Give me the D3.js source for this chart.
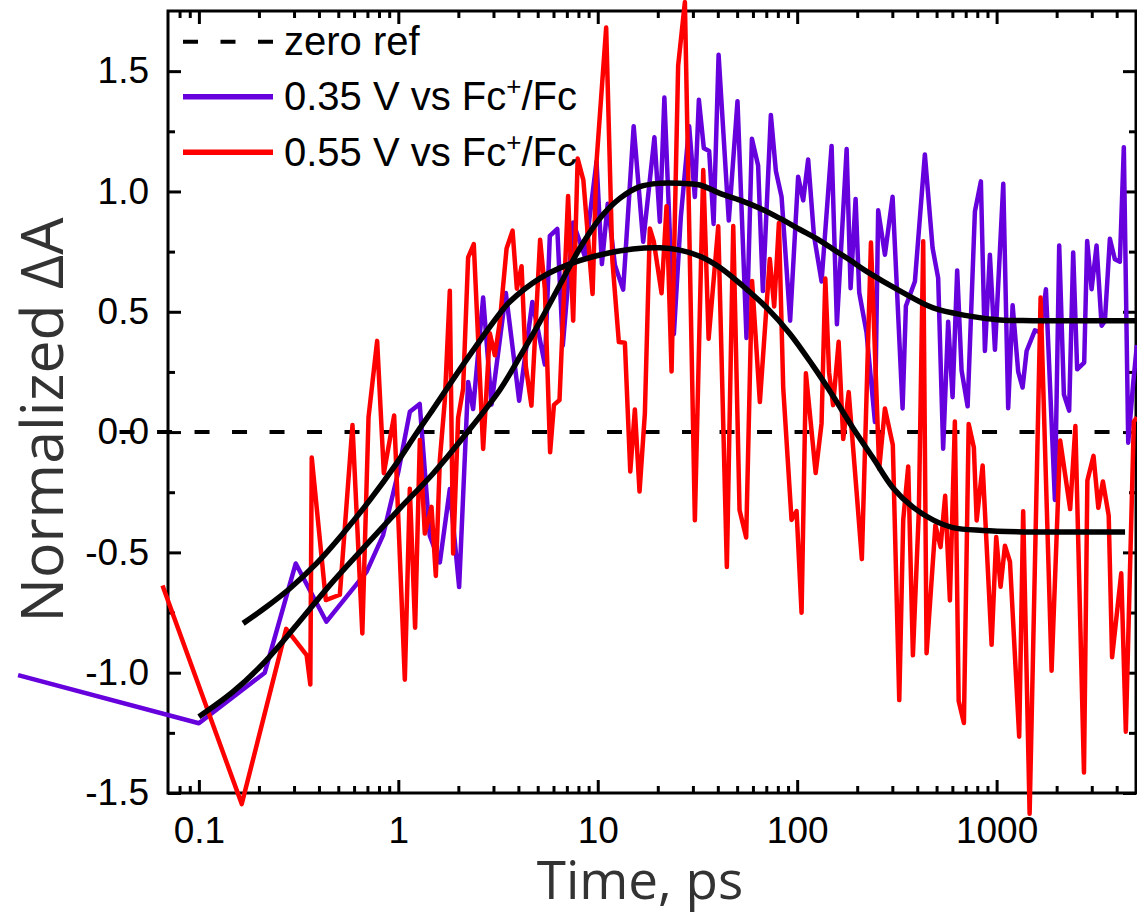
<!DOCTYPE html>
<html><head><meta charset="utf-8">
<script src="https://cdn.jsdelivr.net/npm/d3@7"></script>
<style>body{margin:0;background:#fff}</style>
</head><body>
<svg id="chart" width="1137" height="916"></svg>
<script>
// ---- data (time in ps, normalized ΔA) ----
const zeroRef = [[0.04, 0], [4000, 0]];

const purple035 = [[0.0124,-1.01],[0.1,-1.21],[0.214,-1.0],[0.306,-0.546],[0.436,-0.788],[0.693,-0.581],[0.839,-0.428],[1.0,-0.165],[1.142,0.084],[1.28,0.117],[1.438,-0.431],[1.615,-0.542],[1.812,-0.237],[2.018,-0.644],[2.239,0.208],[2.372,0.096],[2.663,0.559],[2.933,0.115],[3.461,0.578],[4.036,0.13],[4.70,0.541],[5.43,0.281],[5.75,0.815],[6.27,0.844],[6.68,0.36],[7.53,0.871],[8.61,0.731],[9.86,1.124],[10.49,0.698],[11.22,0.949],[12.19,0.694],[13.41,0.592],[15.14,1.271],[16.9,0.791],[19.24,1.225],[20.48,0.874],[21.58,1.39],[24.08,0.407],[26.1,0.894],[28.73,1.271],[30.69,0.977],[32.14,1.381],[34.04,1.18],[36.2,1.168],[38.1,0.865],[40.36,1.568],[45.4,0.879],[50.2,1.375],[55.7,0.391],[59.3,1.219],[63.7,1.108],[67.3,0.586],[73.8,1.318],[78.2,1.085],[83.5,0.978],[92.2,0.463],[101.1,1.061],[107.2,0.963],[113.5,1.133],[121.3,0.819],[132.5,0.626],[148.8,1.189],[158.2,0.448],[177,1.176],[185.3,0.598],[196.3,0.969],[204.7,0.58],[222.8,0.413],[245.5,0.042],[254.8,0.922],[275.4,0.737],[300.9,0.978],[337.7,0.098],[350.9,0.524],[389.3,0.626],[436.8,1.154],[477.5,0.765],[509.3,0.64],[539.5,-0.069],[571.5,0.459],[601.4,0.145],[634.3,0.672],[667.3,0.256],[715.6,0.107],[778.3,0.916],[834,1.042],[873.7,0.337],[925.3,0.737],[981,0.342],[1080,1.032],[1143,0.099],[1203,0.527],[1283,0.251],[1350,0.185],[1414,0.337],[1556,0.423],[1662,0.413],[1767,0.594],[1960,-0.282],[2060,0.775],[2175,0.156],[2311,0.089],[2421,0.746],[2535,0.261],[2749,0.289],[2845,0.794],[2994,0.594],[3171,0.775],[3362,0.442],[3491,0.461],[3698,0.803],[3917,0.718],[4150,0.708],[4345,1.184],[4571,-0.044],[4842,0.204],[5053,0.362]];

const red055 = [[0.0657,-0.638],[0.164,-1.546],[0.274,-0.818],[0.347,-0.927],[0.362,-1.049],[0.368,-0.106],[0.433,-0.698],[0.509,-0.676],[0.589,0.029],[0.66,-0.837],[0.709,0.062],[0.783,0.379],[0.846,-0.171],[0.953,0.069],[1.078,-1.029],[1.142,-0.236],[1.214,-0.813],[1.282,-0.033],[1.358,-0.422],[1.467,-0.311],[1.542,-0.598],[1.615,-0.116],[1.711,0.133],[1.812,0.587],[1.883,-0.505],[1.995,0.059],[2.113,0.18],[2.239,0.726],[2.39,0.781],[2.663,-0.07],[2.876,0.411],[3.048,0.319],[3.228,0.458],[3.49,0.763],[3.74,0.837],[3.93,0.596],[4.15,0.689],[4.36,0.272],[4.65,0.11],[5.14,0.799],[5.43,0.596],[5.77,-0.084],[6.03,0.113],[6.43,0.133],[7.1,0.981],[7.53,0.463],[7.93,1.137],[8.47,1.047],[9.42,0.574],[9.86,1.123],[11.02,1.681],[11.84,0.713],[12.76,0.374],[13.68,0.371],[14.56,-0.164],[15.35,0.094],[16.2,-0.247],[17.23,0.078],[18.25,0.846],[19.11,0.791],[20.89,0.577],[22.13,0.939],[23.45,0.252],[25.3,1.522],[27.35,1.787],[30.69,-0.366],[33.8,1.089],[35.97,0.388],[40.2,0.855],[44.4,-0.561],[47.8,0.856],[51.4,-0.324],[55.5,-0.438],[59.4,0.628],[65,0.125],[72.9,0.719],[76.7,0.522],[81,0.869],[85.1,0.185],[93.7,-0.365],[99.3,-0.328],[105.2,-0.751],[110.6,0.244],[123.8,-0.17],[132.5,0.036],[138.4,0.638],[144.5,0.249],[151.4,0.112],[161.4,0.375],[170.2,-0.029],[181.3,0.166],[198.6,-0.249],[211,-0.528],[234.4,0.788],[257.8,-0.152],[275.4,0.098],[301.7,-0.054],[325,-1.114],[340.2,-0.365],[360.4,-0.143],[380.5,-0.928],[407.6,-0.324],[428.5,0.793],[445.5,-0.919],[493.3,-0.387],[523.6,-0.478],[552.1,-0.265],[583.2,-0.7],[617.6,0.044],[645.3,-1.118],[685.5,-1.209],[724.4,0.034],[769.1,-0.064],[794.3,-0.367],[851,-0.139],[944,-0.884],[995.5,-0.436],[1047,-0.643],[1101,-0.472],[1167,-0.539],[1298,-1.266],[1359,-0.329],[1464,-1.586],[1662,0.559],[1887,-0.992],[2084,-0.035],[2338,-0.32],[2483,0.025],[2742,-1.415],[2852,-0.201],[3062,-0.099],[3236,-0.315],[3412,-0.205],[3648,-0.347],[3794,-0.936],[4217,-0.587],[4446,-1.245],[4876,0.043],[5053,0.062]];

const fit035 = [[0.1,-1.183],[0.1484,-1.079],[0.214,-0.955],[0.309,-0.802],[0.4535,-0.636],[0.666,-0.483],[1.0,-0.324],[1.495,-0.172],[2.198,-0.005],[3.228,0.175],[4.065,0.313],[5.125,0.458],[6.456,0.611],[8.13,0.764],[10.24,0.888],[12.9,0.971],[16.26,1.02],[20.5,1.034],[25.8,1.034],[32.5,1.027],[40.97,0.992],[51.6,0.964],[65,0.93],[81.9,0.888],[103.2,0.842],[130,0.796],[151.4,0.76],[183.7,0.715],[222.8,0.668],[327.3,0.587],[480.8,0.516],[707.5,0.484],[1039,0.466],[1521,0.463],[5000,0.463]];

const fit055 = [[0.1666,-0.795],[0.2183,-0.726],[0.2858,-0.65],[0.389,-0.546],[0.5285,-0.421],[0.7195,-0.283],[0.98,-0.13],[1.233,-0.005],[1.438,0.075],[2.156,0.291],[3.228,0.493],[3.624,0.542],[5.125,0.639],[7.0,0.694],[10.24,0.736],[15.0,0.761],[20.5,0.766],[25.8,0.756],[32.5,0.731],[40.97,0.684],[53.4,0.607],[70.5,0.516],[91.9,0.409],[119.9,0.276],[151,0.151],[190.4,0.017],[239.9,-0.107],[301.7,-0.231],[380.5,-0.312],[479.7,-0.365],[603.9,-0.397],[853.1,-0.409],[1521,-0.415],[4406,-0.415]];

const xMajor = [0.1, 1, 10, 100, 1000];
const xTickLabels = ["0.1", "1", "10", "100", "1000"];
const xMinor = [0.08,0.09,0.2,0.3,0.4,0.5,0.6,0.7,0.8,0.9,2,3,4,5,6,7,8,9,20,30,40,50,60,70,80,90,200,300,400,500,600,700,800,900,2000,3000,4000];
const yMajor = [-1.5, -1.0, -0.5, 0, 0.5, 1.0, 1.5];
const yTickLabels = ["-1.5", "-1.0", "-0.5", "0.0", "0.5", "1.0", "1.5"];
const yMinor = [-1.25, -0.75, -0.25, 0.25, 0.75, 1.25];

const legendItems = [
  {label: "zero ref", kind: "dash"},
  {label: "0.35 V vs Fc", sup: "+", tail: "/Fc", kind: "purple"},
  {label: "0.55 V vs Fc", sup: "+", tail: "/Fc", kind: "red"}
];

// ---- drawing ----
const svg = d3.select("#chart");
const x = d3.scaleLog().domain([0.07, 5000]).range([168, 1136]);
const y = d3.scaleLinear().domain([-1.5, 1.75]).range([793, 11]);
const tickFont = "'Liberation Sans', Arial, Helvetica, sans-serif";
const titleFont = "'Open Sans', 'Noto Sans', sans-serif";
const colors = {purple: "#6600dd", red: "#ff0000"};

function styleAxis(g) {
  g.select(".domain").remove();
  g.selectAll(".tick line").attr("stroke", "#000").attr("stroke-width", 3);
  g.selectAll(".tick text").attr("font-family", tickFont).attr("font-size", 37).attr("fill", "#000");
}

// frame
svg.append("rect").attr("x", 168).attr("y", 11).attr("width", 968).attr("height", 782)
  .attr("fill", "none").attr("stroke", "#000").attr("stroke-width", 3);

// bottom
svg.append("g").attr("transform", "translate(0,793)")
  .call(d3.axisBottom(x).tickValues(xMajor).tickFormat((d, i) => xTickLabels[i]).tickSize(-13).tickPadding(24)).call(styleAxis);
svg.append("g").attr("transform", "translate(0,793)")
  .call(d3.axisBottom(x).tickValues(xMinor).tickFormat("").tickSize(-7)).call(styleAxis);
// top
svg.append("g").attr("transform", "translate(0,11)")
  .call(d3.axisTop(x).tickValues(xMajor).tickFormat("").tickSize(-13)).call(styleAxis);
svg.append("g").attr("transform", "translate(0,11)")
  .call(d3.axisTop(x).tickValues(xMinor).tickFormat("").tickSize(-7)).call(styleAxis);
// left
svg.append("g").attr("transform", "translate(168,0)")
  .call(d3.axisLeft(y).tickValues(yMajor).tickFormat((d, i) => yTickLabels[i]).tickSize(-13).tickPadding(19)).call(styleAxis);
svg.append("g").attr("transform", "translate(168,0)")
  .call(d3.axisLeft(y).tickValues(yMinor).tickFormat("").tickSize(-7)).call(styleAxis);
// right
svg.append("g").attr("transform", "translate(1136,0)")
  .call(d3.axisRight(y).tickValues(yMajor).tickFormat("").tickSize(-13)).call(styleAxis);
svg.append("g").attr("transform", "translate(1136,0)")
  .call(d3.axisRight(y).tickValues(yMinor).tickFormat("").tickSize(-7)).call(styleAxis);

const line = d3.line().x(d => x(d[0])).y(d => y(d[1]));
const smooth = d3.line().x(d => x(d[0])).y(d => y(d[1])).curve(d3.curveCatmullRom.alpha(0.5));

svg.append("path").datum(zeroRef).attr("d", line).attr("fill", "none")
  .attr("stroke", "#000").attr("stroke-width", 4).attr("stroke-dasharray", "15,22.5");
svg.append("path").datum(purple035).attr("d", line).attr("fill", "none")
  .attr("stroke", colors.purple).attr("stroke-width", 4.5).attr("stroke-linejoin", "round");
svg.append("path").datum(red055).attr("d", line).attr("fill", "none")
  .attr("stroke", colors.red).attr("stroke-width", 4.5).attr("stroke-linejoin", "round");
[fit035, fit055].forEach(f => {
  svg.append("path").datum(f).attr("d", smooth).attr("fill", "none")
    .attr("stroke", "#000").attr("stroke-width", 5.5).attr("stroke-linecap", "butt");
});

// legend
const legY = [41.7, 96.7, 152.3];
legendItems.forEach((it, i) => {
  const ly = legY[i];
  const ln = svg.append("line").attr("x1", 183).attr("x2", 273).attr("y1", ly).attr("y2", ly);
  if (it.kind === "dash") ln.attr("stroke", "#000").attr("stroke-width", 4).attr("stroke-dasharray", "15,22.5");
  else ln.attr("stroke", colors[it.kind]).attr("stroke-width", 5.5);
  const t = svg.append("text").attr("x", 284).attr("y", ly + 13.5)
    .attr("font-family", tickFont).attr("font-size", 40).attr("fill", "#000");
  t.append("tspan").text(it.label);
  if (it.sup) {
    t.append("tspan").attr("font-size", 26).attr("dy", -15).text(it.sup);
    t.append("tspan").attr("dy", 15).text(it.tail);
  }
});

// axis titles
svg.append("text").attr("x", 640).attr("y", 899).attr("text-anchor", "middle")
  .attr("font-family", titleFont).attr("font-size", 53).attr("fill", "#333").text("Time, ps");
svg.append("text").attr("transform", "translate(63,420) rotate(-90)").attr("text-anchor", "middle")
  .attr("font-family", titleFont).attr("font-size", 59).attr("fill", "#333").text("Normalized ΔA");
</script>
</body></html>
